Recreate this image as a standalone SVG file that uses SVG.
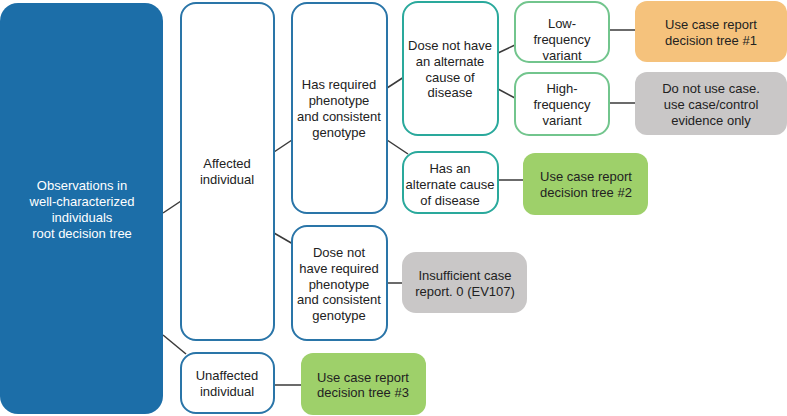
<svg xmlns="http://www.w3.org/2000/svg" width="787" height="416" viewBox="0 0 787 416">
<style>
text{font-family:"Liberation Sans",Arial,sans-serif;font-size:13px;fill:#222;text-anchor:middle}
.blue{fill:#fff;stroke:#2a75a8;stroke-width:2}
.teal{fill:#fff;stroke:#2aa99c;stroke-width:2}
.gro{fill:#fff;stroke:#72c58d;stroke-width:2}
.orange{fill:#f5c27c}
.gray{fill:#c9c7c7}
.green{fill:#9ed06a}
.conn line{stroke:#3a3a3a;stroke-width:1.5}
</style>
<rect width="787" height="416" fill="#fff"/>
<g class="conn">
<line x1="163" y1="213" x2="181" y2="201"/>
<line x1="163" y1="335" x2="186" y2="354"/>
<line x1="274" y1="152" x2="292" y2="140"/>
<line x1="274" y1="233" x2="293" y2="244"/>
<line x1="387" y1="88" x2="404" y2="77"/>
<line x1="387" y1="140" x2="408" y2="154"/>
<line x1="498" y1="53" x2="515" y2="45"/>
<line x1="498" y1="89" x2="515" y2="98"/>
<line x1="609" y1="30" x2="635" y2="30"/>
<line x1="609" y1="103" x2="635" y2="103"/>
<line x1="498" y1="180" x2="523" y2="180"/>
<line x1="387" y1="283" x2="402" y2="283"/>
<line x1="274" y1="385" x2="301" y2="385"/>
</g>
<g id="root">
<rect x="0" y="3" width="163" height="411" rx="18" fill="#1c6ea8"/>
<text x="82" y="190" style="fill:#fff">Observations in</text>
<text x="82" y="206" style="fill:#fff">well-characterized</text>
<text x="82" y="222" style="fill:#fff">individuals</text>
<text x="82" y="238" style="fill:#fff">root decision tree</text>
</g>
<g id="affected">
<rect class="blue" x="181" y="3" width="93" height="337" rx="15"/>
<text x="227" y="168">Affected</text>
<text x="227" y="184">individual</text>
</g>
<g id="unaffected">
<rect class="blue" x="181" y="353" width="93" height="60" rx="15"/>
<text x="227" y="380">Unaffected</text>
<text x="227" y="396">individual</text>
</g>
<g id="phenotype">
<rect class="blue" x="292" y="3" width="95" height="210" rx="15"/>
<text x="339" y="89">Has required</text>
<text x="339" y="105">phenotype</text>
<text x="339" y="121">and consistent</text>
<text x="339" y="137">genotype</text>
</g>
<g id="nophenotype">
<rect class="blue" x="292" y="226" width="95" height="114" rx="15"/>
<text x="339" y="257">Dose not</text>
<text x="339" y="273">have required</text>
<text x="339" y="289">phenotype</text>
<text x="339" y="304">and consistent</text>
<text x="339" y="320">genotype</text>
</g>
<g id="noalt">
<rect class="teal" x="403" y="2" width="95" height="133" rx="15"/>
<text x="450" y="50">Dose not have</text>
<text x="450" y="66">an alternate</text>
<text x="450" y="82">cause of</text>
<text x="450" y="97">disease</text>
</g>
<g id="hasalt">
<rect class="teal" x="403" y="152" width="95" height="61" rx="15"/>
<text x="450" y="173">Has an</text>
<text x="450" y="189">alternate cause</text>
<text x="450" y="205">of disease</text>
</g>
<g id="lowfreq">
<rect class="gro" x="515" y="2" width="94" height="60" rx="14"/>
<text x="562" y="28">Low-</text>
<text x="562" y="44">frequency</text>
<text x="562" y="60">variant</text>
</g>
<g id="highfreq">
<rect class="gro" x="515" y="73" width="94" height="62" rx="14"/>
<text x="562" y="93">High-</text>
<text x="562" y="109">frequency</text>
<text x="562" y="125">variant</text>
</g>
<g id="tree1">
<rect class="orange" x="635" y="1" width="152" height="61" rx="12"/>
<text x="711" y="29">Use case report</text>
<text x="711" y="45">decision tree #1</text>
</g>
<g id="donotuse">
<rect class="gray" x="635" y="72" width="152" height="63" rx="12"/>
<text x="711" y="93">Do not use case.</text>
<text x="711" y="109">use case/control</text>
<text x="711" y="125">evidence only</text>
</g>
<g id="tree2">
<rect class="green" x="523" y="153" width="125" height="62" rx="12"/>
<text x="586" y="181">Use case report</text>
<text x="586" y="197">decision tree #2</text>
</g>
<g id="insufficient">
<rect class="gray" x="402" y="252" width="125" height="61" rx="14"/>
<text x="465" y="280">Insufficient case</text>
<text x="465" y="296">report. 0 (EV107)</text>
</g>
<g id="tree3">
<rect class="green" x="301" y="353" width="125" height="62" rx="12"/>
<text x="363" y="382">Use case report</text>
<text x="363" y="397">decision tree #3</text>
</g>
</svg>
